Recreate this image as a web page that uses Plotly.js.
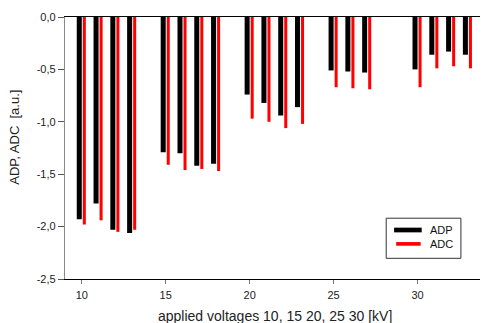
<!DOCTYPE html>
<html>
<head>
<meta charset="utf-8">
<script src="https://cdn.plot.ly/plotly-3.0.1.min.js"></script>
<style>
  html, body { margin: 0; padding: 0; background: #fff; }
  #chart { width: 483px; height: 323px; }
</style>
</head>
<body>
<div id="chart"></div>
<script>
// Applied voltages [kV]
const voltages = [10, 11, 12, 13, 15, 16, 17, 18, 20, 21, 22, 23, 25, 26, 27, 30, 31, 32, 33];

// ADP values [a.u.]
const adp = [-1.93, -1.78, -2.03, -2.06, -1.29, -1.30, -1.42, -1.40, -0.74, -0.82, -0.94, -0.86,
             -0.51, -0.52, -0.53, -0.50, -0.36, -0.33, -0.36];

// ADC values [a.u.]
const adc = [-1.98, -1.94, -2.05, -2.03, -1.41, -1.46, -1.45, -1.47, -0.97, -1.00, -1.06, -1.02,
             -0.67, -0.68, -0.69, -0.67, -0.49, -0.47, -0.49];

// Axis ticks
const xTickVals = [10, 15, 20, 25, 30];
const yTickVals = [0, -0.5, -1.0, -1.5, -2.0, -2.5];
const yTickText = ['0,0', '-0,5', '-1,0', '-1,5', '-2,0', '-2,5'];

const fontFamily = 'Liberation Sans, Arial, sans-serif';

const traces = [
  {
    type: 'bar', name: 'ADP', x: voltages, y: adp,
    width: 0.3, offset: -0.3,
    marker: { color: '#000000', line: { width: 0 } },
    showlegend: false, hoverinfo: 'x+y'
  },
  {
    type: 'bar', name: 'ADC', x: voltages, y: adc,
    width: 0.18, offset: 0.06,
    marker: { color: '#ff0000', line: { width: 0 } },
    showlegend: false, hoverinfo: 'x+y'
  }
];

// Hand-drawn legend box with wide swatches
const legendShapes = [
  { type: 'rect', xref: 'paper', yref: 'paper', x0: 0.774, x1: 0.954, y0: 0.079, y1: 0.232,
    line: { color: '#333', width: 1 }, fillcolor: '#fff', layer: 'above' },
  { type: 'rect', xref: 'paper', yref: 'paper', x0: 0.793, x1: 0.8595, y0: 0.178, y1: 0.196,
    line: { width: 0 }, fillcolor: '#000', layer: 'above' },
  { type: 'rect', xref: 'paper', yref: 'paper', x0: 0.798, x1: 0.857, y0: 0.127, y1: 0.141,
    line: { width: 0 }, fillcolor: '#ff0000', layer: 'above' }
];

const layout = {
  width: 483, height: 323,
  margin: { l: 65, r: 3, t: 17, b: 44, pad: 0 },
  paper_bgcolor: '#fff', plot_bgcolor: '#fff',
  font: { family: fontFamily, size: 11, color: '#222' },
  barmode: 'overlay',
  showlegend: false,
  xaxis: {
    range: [9.0, 33.72],
    tickvals: xTickVals,
    ticks: 'outside', ticklen: 4, tickwidth: 1, tickcolor: '#777',
    ticklabelstandoff: 2,
    showline: true, linecolor: '#000', linewidth: 1.2, mirror: true,
    showgrid: false, zeroline: false,
    tickfont: { size: 11, color: '#222' }
  },
  yaxis: {
    range: [-2.5, 0],
    tickvals: yTickVals, ticktext: yTickText,
    ticks: 'outside', ticklen: 6, tickwidth: 1, tickcolor: '#555',
    showline: true, linecolor: '#888', linewidth: 1.2,
    showgrid: false, zeroline: false,
    tickfont: { size: 11, color: '#222' }
  },
  shapes: legendShapes,
  annotations: [
    { xref: 'paper', yref: 'paper', x: 0.874, y: 0.187, xanchor: 'left', yanchor: 'middle',
      text: 'ADP', showarrow: false, font: { size: 11, color: '#111' } },
    { xref: 'paper', yref: 'paper', x: 0.874, y: 0.134, xanchor: 'left', yanchor: 'middle',
      text: 'ADC', showarrow: false, font: { size: 11, color: '#111' } },
    { xref: 'paper', yref: 'paper', x: -0.1205, y: 0.543, xanchor: 'center', yanchor: 'middle',
      textangle: -90, text: 'ADP, ADC  [a.u.]', showarrow: false, font: { size: 13, color: '#222' } },
    { xref: 'paper', yref: 'paper', x: 0.506, y: -0.141, xanchor: 'center', yanchor: 'middle',
      text: 'applied voltages 10, 15 20, 25 30 [kV]', showarrow: false, font: { size: 14, color: '#222' } }
  ]
};

Plotly.newPlot('chart', traces, layout, { staticPlot: true, displayModeBar: false });
</script>
</body>
</html>
